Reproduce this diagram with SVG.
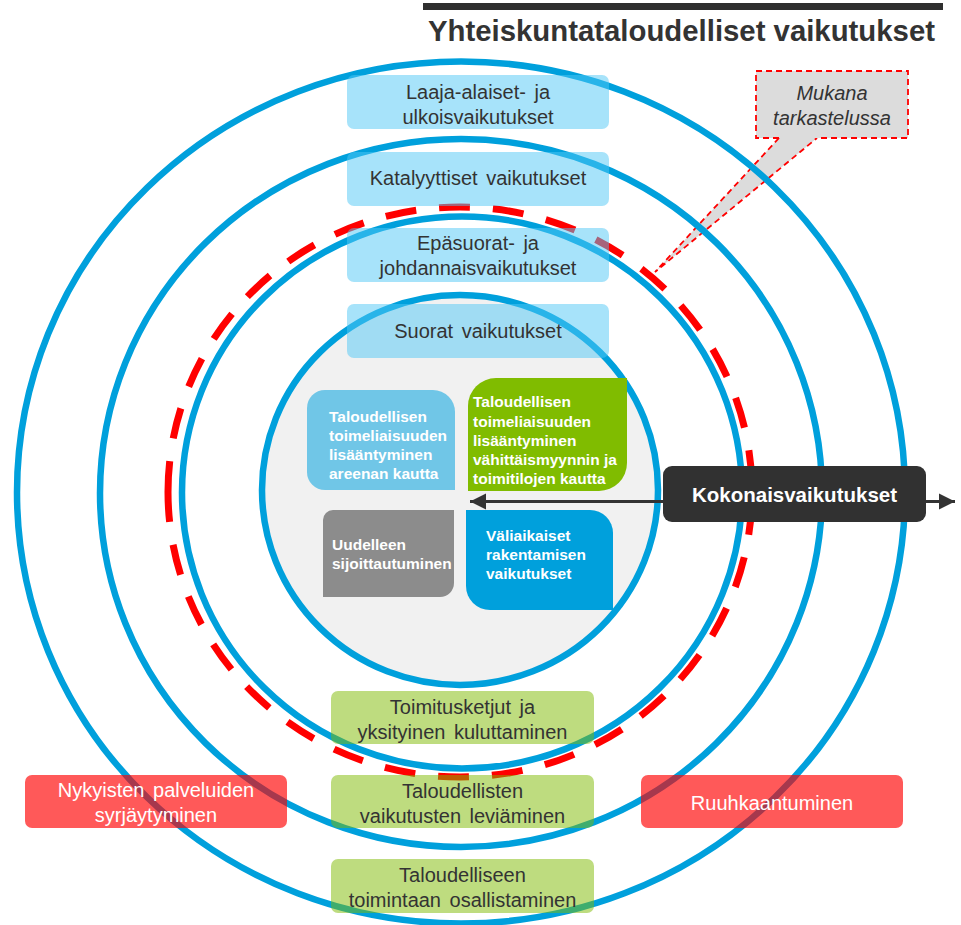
<svg xmlns="http://www.w3.org/2000/svg" width="961" height="925" viewBox="0 0 961 925">
<style>
.ring{fill:none;stroke:#00a0dc;stroke-width:6.5}
.lbl{font-family:"Liberation Sans",Arial,sans-serif;font-size:20px;fill:#333;text-anchor:middle;word-spacing:3px}
.wht{fill:#fff}
.quad{font-family:"Liberation Sans",Arial,sans-serif;font-size:15.5px;font-weight:bold;fill:#fff}
.bbox{fill:rgb(80,200,245);fill-opacity:0.5}
.gbox{fill:rgb(125,185,0);fill-opacity:0.5}
.rbox{fill:#ff0000;fill-opacity:0.65}
</style>
<defs>
<marker id="ah" markerUnits="userSpaceOnUse" markerWidth="18" markerHeight="18" viewBox="0 0 18 18" refX="16" refY="9" orient="auto-start-reverse">
<path d="M0,1 L16,9 L0,17 Z" fill="#333"/>
</marker>
</defs>

<g id="title">
<rect x="423" y="3" width="520" height="7" fill="#2f2f2f"/>
<text x="681.5" y="41" font-family="'Liberation Sans',Arial,sans-serif" font-size="29" font-weight="bold" fill="#333" text-anchor="middle" textLength="507" lengthAdjust="spacingAndGlyphs">Yhteiskuntataloudelliset vaikutukset</text>
</g>

<g id="callout-pointer">
<path d="M779,138 L655,272 L817,138" fill="#dcdcdc" stroke="#ff0000" stroke-width="1.8" stroke-dasharray="6 4"/>
</g>

<g id="rings">
<ellipse id="ring-suorat" cx="460" cy="490" rx="198" ry="195" fill="#f1f1f1" stroke="#00a0dc" stroke-width="6.5"/>
<path id="ring-dashed" d="M168,492 A292,285 0 1 1 752,492 A292,285 0 1 1 168,492 Z" fill="none" stroke="#ff0000" stroke-width="7" stroke-dasharray="31 23"/>
<ellipse id="ring-epasuorat" class="ring" cx="462" cy="492.5" rx="280" ry="276"/>
<ellipse id="ring-katalyyttiset" class="ring" cx="461" cy="493" rx="361" ry="354"/>
<ellipse id="ring-laaja" class="ring" cx="461" cy="492.5" rx="444" ry="431"/>
</g>

<g id="callout">
<rect x="756" y="71" width="152" height="67" fill="#dcdcdc"/>
<path d="M779,138 H756 V71 H908 V138 H817" fill="none" stroke="#ff0000" stroke-width="1.8" stroke-dasharray="6 4"/>
<text x="832" y="100" font-family="'Liberation Sans',Arial,sans-serif" font-size="20" font-style="italic" fill="#333" text-anchor="middle">Mukana</text>
<text x="832" y="125" font-family="'Liberation Sans',Arial,sans-serif" font-size="20" font-style="italic" fill="#333" text-anchor="middle">tarkastelussa</text>
</g>

<g id="n-laaja">
<rect class="bbox" x="347" y="75" width="262" height="54" rx="7"/>
<text class="lbl" x="478" y="99">Laaja-alaiset- ja</text>
<text class="lbl" x="478" y="124">ulkoisvaikutukset</text>
</g>
<g id="n-katalyyttiset">
<rect class="bbox" x="347" y="152" width="262" height="54" rx="7"/>
<text class="lbl" x="478" y="185">Katalyyttiset vaikutukset</text>
</g>
<g id="n-epasuorat">
<rect class="bbox" x="347" y="228" width="262" height="54" rx="7"/>
<text class="lbl" x="478" y="250">Epäsuorat- ja</text>
<text class="lbl" x="478" y="275">johdannaisvaikutukset</text>
</g>
<g id="n-suorat">
<rect class="bbox" x="347" y="304" width="262" height="54" rx="7"/>
<text class="lbl" x="478" y="338">Suorat vaikutukset</text>
</g>

<g id="n-toimitusketjut">
<rect class="gbox" x="331" y="691" width="263" height="53" rx="7"/>
<text class="lbl" x="462.5" y="714">Toimitusketjut ja</text>
<text class="lbl" x="462.5" y="739">yksityinen kuluttaminen</text>
</g>
<g id="n-leviaminen">
<rect class="gbox" x="331" y="775" width="263" height="53" rx="7"/>
<text class="lbl" x="462.5" y="798">Taloudellisten</text>
<text class="lbl" x="462.5" y="823">vaikutusten leviäminen</text>
</g>
<g id="n-osallistaminen">
<rect class="gbox" x="331" y="859" width="263" height="54" rx="7"/>
<text class="lbl" x="462.5" y="882">Taloudelliseen</text>
<text class="lbl" x="462.5" y="907">toimintaan osallistaminen</text>
</g>

<g id="n-syrjaytyminen">
<rect class="rbox" x="25" y="775" width="262" height="53" rx="7"/>
<text class="lbl wht" x="156" y="797">Nykyisten palveluiden</text>
<text class="lbl wht" x="156" y="822">syrjäytyminen</text>
</g>
<g id="n-ruuhkaantuminen">
<rect class="rbox" x="641" y="775" width="262" height="53" rx="7"/>
<text class="lbl wht" x="772" y="810">Ruuhkaantuminen</text>
</g>

<g id="q-areena">
<path d="M325,390 H433 A22,22 0 0 1 455,412 V490 H325 A18,18 0 0 1 307,472 V408 A18,18 0 0 1 325,390 Z" fill="#70c6e7"/>
<text class="quad" x="329" y="422">Taloudellisen</text>
<text class="quad" x="329" y="441">toimeliaisuuden</text>
<text class="quad" x="329" y="460">lisääntyminen</text>
<text class="quad" x="329" y="479">areenan kautta</text>
</g>
<g id="q-vahittais">
<path d="M496,378 H627 V463 A28,28 0 0 1 599,491 H468 V406 A28,28 0 0 1 496,378 Z" fill="#80bc00"/>
<text class="quad" x="473" y="407">Taloudellisen</text>
<text class="quad" x="473" y="426.5">toimeliaisuuden</text>
<text class="quad" x="473" y="446">lisääntyminen</text>
<text class="quad" x="473" y="465">vähittäismyynnin ja</text>
<text class="quad" x="473" y="484">toimitilojen kautta</text>
</g>
<g id="q-sijoittautuminen">
<path d="M333,510 H454 V583 A14,14 0 0 1 440,597 H323 V520 A10,10 0 0 1 333,510 Z" fill="#8c8c8c"/>
<text class="quad" x="332" y="550">Uudelleen</text>
<text class="quad" x="332" y="569">sijoittautuminen</text>
</g>
<g id="q-rakentaminen">
<path d="M466,510 H590 A23,23 0 0 1 613,533 V610 H490 A24,24 0 0 1 466,586 Z" fill="#00a0dc"/>
<text class="quad" x="486" y="541">Väliaikaiset</text>
<text class="quad" x="486" y="560">rakentamisen</text>
<text class="quad" x="486" y="579">vaikutukset</text>
</g>

<g id="connectors">
<line x1="470" y1="501.5" x2="955" y2="501.5" stroke="#333" stroke-width="3" marker-start="url(#ah)" marker-end="url(#ah)"/>
</g>

<g id="n-kokonais">
<rect x="663" y="466" width="263" height="56" rx="9" fill="#313131"/>
<text x="794.5" y="502" font-family="'Liberation Sans',Arial,sans-serif" font-size="20.5" font-weight="bold" fill="#fff" text-anchor="middle">Kokonaisvaikutukset</text>
</g>
</svg>
